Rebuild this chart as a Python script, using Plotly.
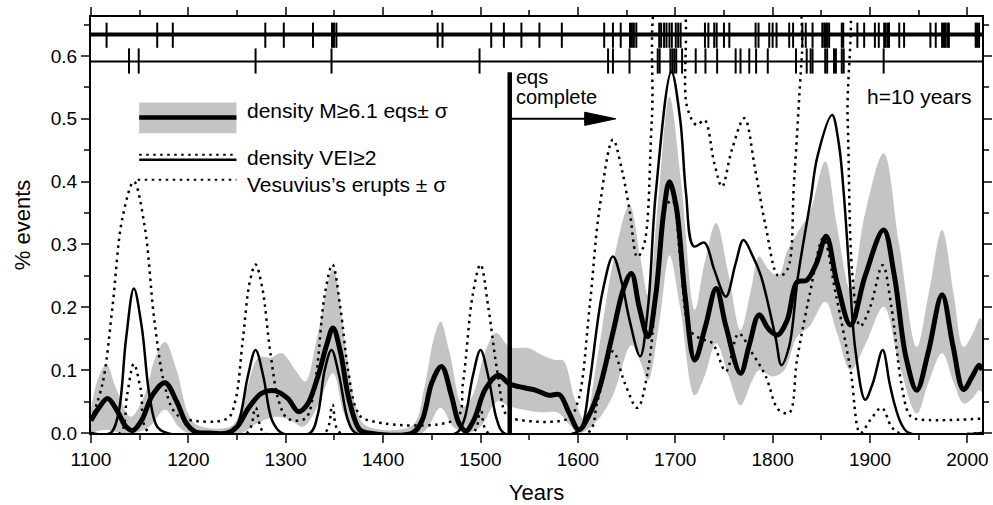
import plotly.graph_objects as go

# ---------------- data ----------------
eq_years = [1100, 1108, 1117, 1127, 1136, 1143, 1152, 1163, 1176, 1188, 1198, 1207, 1220, 1240, 1250,
            1262, 1275, 1289, 1302, 1313, 1322, 1333, 1342, 1348.5, 1356, 1365, 1376, 1385, 1430, 1440,
            1450, 1460, 1470, 1478, 1485, 1493, 1505, 1518, 1530, 1545, 1557, 1570, 1581, 1591, 1601,
            1612, 1622, 1636, 1647, 1655, 1663, 1672, 1680, 1688, 1694, 1701, 1710, 1720, 1731, 1742,
            1752, 1767, 1776, 1786, 1796, 1805, 1815, 1825, 1835, 1845, 1855, 1866, 1880, 1895, 1914,
            1925, 1937, 1948, 1960, 1974, 1985, 1996, 2005, 2012, 2015]
eq_density = [0.02, 0.04, 0.055, 0.035, 0.01, 0.004, 0.02, 0.06, 0.08, 0.05, 0.015, 0.002, 0.0, 0.0, 0.01,
              0.04, 0.063, 0.067, 0.055, 0.034, 0.045, 0.09, 0.14, 0.167, 0.13, 0.053, 0.005, 0.0, 0.0, 0.02,
              0.08, 0.106, 0.06, 0.015, 0.003, 0.02, 0.07, 0.092, 0.078, 0.072, 0.068, 0.06, 0.061, 0.032, 0.005,
              0.03, 0.07, 0.16, 0.23, 0.254, 0.2, 0.153, 0.22, 0.35, 0.40, 0.36, 0.22, 0.116, 0.17, 0.23,
              0.17, 0.095, 0.14, 0.188, 0.165, 0.156, 0.18, 0.24, 0.243, 0.27, 0.313, 0.24, 0.172, 0.25, 0.323,
              0.25, 0.12, 0.068, 0.13, 0.22, 0.14, 0.069, 0.09, 0.108, 0.1]

eq_up_years = [1100, 1108, 1116, 1126, 1141, 1155, 1166, 1176, 1188, 1200, 1210, 1245, 1258, 1272, 1285,
               1296, 1310, 1320, 1332, 1348.5, 1362, 1372, 1382, 1430, 1442, 1452, 1459, 1468, 1482, 1492,
               1505, 1516, 1530, 1550, 1563, 1577, 1585, 1597, 1607, 1620, 1636, 1653, 1664, 1672, 1683,
               1694, 1706, 1720, 1730, 1742, 1755, 1767, 1778, 1786, 1796, 1806, 1815, 1826, 1838, 1854,
               1866, 1880, 1895, 1914, 1930, 1948, 1960, 1974, 1986, 1996, 2006, 2013, 2015]
eq_upper = [0.04, 0.09, 0.109, 0.07, 0.026, 0.06, 0.12, 0.145, 0.1, 0.03, 0.012, 0.012, 0.06, 0.12, 0.12,
            0.127, 0.1, 0.082, 0.15, 0.26, 0.132, 0.042, 0.012, 0.012, 0.07, 0.15, 0.177, 0.13, 0.042, 0.06,
            0.13, 0.159, 0.137, 0.135, 0.124, 0.116, 0.115, 0.053, 0.02, 0.12, 0.27, 0.363, 0.28, 0.22, 0.38,
            0.535, 0.40, 0.196, 0.27, 0.334, 0.25, 0.164, 0.23, 0.281, 0.26, 0.25, 0.29, 0.32, 0.35, 0.432,
            0.33, 0.228, 0.35, 0.445, 0.3, 0.137, 0.22, 0.323, 0.22, 0.137, 0.16, 0.183, 0.18]

eq_lo_years = [1100, 1117, 1130, 1145, 1160, 1176, 1190, 1200, 1255, 1270, 1290, 1305, 1318, 1332, 1348.5,
               1360, 1372, 1440, 1459, 1472, 1485, 1500, 1517, 1530, 1560, 1580, 1592, 1602, 1620, 1636,
               1655, 1665, 1672, 1684, 1694, 1705, 1720, 1730, 1742, 1755, 1767, 1778, 1786, 1800, 1812,
               1825, 1838, 1854, 1866, 1880, 1895, 1914, 1930, 1948, 1960, 1974, 1986, 1996, 2005, 2012, 2015]
eq_lower = [0.0, 0.005, 0.0, 0.0, 0.01, 0.037, 0.01, 0.0, 0.0, 0.015, 0.026, 0.02, 0.01, 0.04, 0.095,
            0.03, 0.0, 0.0, 0.04, 0.01, 0.0, 0.01, 0.05, 0.042, 0.033, 0.032, 0.012, 0.0, 0.02, 0.06,
            0.14, 0.11, 0.084, 0.18, 0.283, 0.2, 0.06, 0.09, 0.143, 0.09, 0.044, 0.08, 0.1, 0.09, 0.1,
            0.153, 0.17, 0.209, 0.16, 0.1, 0.14, 0.201, 0.11, 0.031, 0.08, 0.127, 0.08, 0.047, 0.055, 0.068, 0.065]

vei_years = [1100, 1120, 1128, 1136, 1144, 1152, 1160, 1168, 1178, 1244, 1252, 1261, 1269, 1277, 1286,
             1296, 1325, 1333, 1340, 1347, 1355, 1364, 1372, 1475, 1483, 1492, 1500, 1508, 1517, 1524,
             1597, 1604, 1612, 1625, 1636, 1645, 1653, 1664, 1672, 1680, 1696, 1705, 1711, 1719, 1730,
             1740, 1752, 1762, 1770, 1780, 1788, 1803, 1809, 1817, 1826, 1839, 1846, 1861, 1868, 1873,
             1879, 1885, 1895, 1903, 1913, 1920, 1925, 1932, 1940, 2015]
vei_density = [0.0, 0.0, 0.03, 0.15, 0.23, 0.17, 0.06, 0.01, 0.0, 0.0, 0.02, 0.09, 0.132, 0.09, 0.02,
               0.0, 0.0, 0.03, 0.1, 0.132, 0.09, 0.02, 0.0, 0.0, 0.02, 0.09, 0.132, 0.09, 0.02, 0.0,
               0.0, 0.01, 0.08, 0.222, 0.281, 0.24, 0.18, 0.122, 0.2, 0.382, 0.575, 0.5, 0.382, 0.297, 0.303,
               0.26, 0.217, 0.27, 0.307, 0.28, 0.25, 0.152, 0.108, 0.138, 0.249, 0.371, 0.44, 0.506, 0.46, 0.382,
               0.25, 0.132, 0.053, 0.08, 0.132, 0.08, 0.047, 0.015, 0.0, 0.0]

ves_up_years = [1100, 1112, 1122, 1132, 1144, 1155, 1165, 1175, 1185, 1195, 1240, 1248, 1256, 1263, 1269,
                1276, 1284, 1293, 1302, 1320, 1330, 1340, 1348, 1356, 1364, 1372, 1380, 1475, 1482, 1492,
                1500, 1508, 1517, 1526, 1533, 1590, 1600, 1612, 1622, 1636, 1645, 1653, 1661, 1668, 1676,
                1684, 1705, 1712, 1722, 1730, 1740, 1748, 1758, 1771, 1782, 1793, 1806, 1815, 1822, 1830,
                1836, 1872, 1877, 1882, 1890, 1900, 1913, 1922, 1932, 1940, 1946, 2015]
ves_upper = [0.02, 0.08, 0.2, 0.34, 0.40, 0.33, 0.18, 0.08, 0.035, 0.023, 0.023, 0.05, 0.15, 0.24, 0.268,
             0.23, 0.13, 0.05, 0.023, 0.023, 0.08, 0.22, 0.268, 0.2, 0.1, 0.04, 0.023, 0.023, 0.08, 0.22,
             0.268, 0.2, 0.1, 0.03, 0.023, 0.023, 0.05, 0.2, 0.355, 0.467, 0.42, 0.355, 0.28, 0.3, 0.5,
             0.7, 0.7, 0.52, 0.49, 0.498, 0.43, 0.392, 0.45, 0.501, 0.42, 0.328, 0.25, 0.26, 0.4, 0.6,
             0.72, 0.72, 0.5, 0.25, 0.17, 0.2, 0.267, 0.2, 0.08, 0.03, 0.023, 0.023]

ves_lo_years = [1100, 1130, 1137, 1144, 1151, 1160, 1260, 1269, 1278, 1340, 1348, 1356, 1492, 1500, 1508,
                1610, 1620, 1636, 1648, 1661, 1672, 1683, 1690, 1697, 1705, 1715, 1726, 1738, 1752, 1765,
                1779, 1793, 1806, 1817, 1825, 1838, 1852, 1865, 1880, 1890, 1900, 1912, 1922, 1930, 2015]
ves_lower = [0.0, 0.0, 0.06, 0.11, 0.07, 0.0, 0.0, 0.04, 0.0, 0.0, 0.045, 0.0, 0.0, 0.04, 0.0,
             0.0, 0.05, 0.13, 0.08, 0.04, 0.1, 0.28, 0.36, 0.37, 0.28, 0.164, 0.15, 0.143, 0.098, 0.158,
             0.127, 0.09, 0.037, 0.032, 0.116, 0.22, 0.31, 0.22, 0.1, 0.0, 0.02, 0.04, 0.01, 0.0, 0.0]

eq_events = [1116, 1168, 1184, 1279, 1298, 1328, 1347.5, 1349.5, 1352, 1456, 1461, 1511, 1524, 1542,
             1560.5, 1583.5, 1627, 1636, 1644, 1653.5, 1655.5, 1657.5, 1660, 1683.5, 1685.5, 1688.5, 1691,
             1694, 1696.5, 1700.5, 1703, 1705.5, 1730.5, 1734, 1740, 1742.5, 1750, 1755.5, 1782.5, 1785.5,
             1796.5, 1800, 1804, 1817, 1821, 1830.5, 1834, 1841, 1851, 1853, 1854.5, 1856, 1858, 1871,
             1872.5, 1887, 1894, 1905, 1909, 1914.5, 1916, 1918, 1919.5, 1930, 1935, 1962, 1967.5, 1974,
             1976, 1977.5, 1979.5, 1981, 2008.5, 2010, 2012]
eruptions = [1139, 1149, 1269, 1347, 1499, 1631, 1636, 1653, 1682, 1684, 1695, 1697, 1699, 1701, 1707,
             1721, 1731, 1743, 1762, 1767, 1776, 1783, 1795, 1824, 1835, 1839, 1841, 1854, 1856, 1863,
             1865, 1871, 1873, 1914]

x_ticks = [1100, 1200, 1300, 1400, 1500, 1600, 1700, 1800, 1900, 2000]
y_ticks = [0.0, 0.1, 0.2, 0.3, 0.4, 0.5, 0.6]

complete_year = 1530

# ---------------- styling ----------------
GRAY = "#c4c4c4"
FONT = "Liberation Sans, Arial, Helvetica, sans-serif"
DOT = "2.5px,4.5px"

fig = go.Figure()

# gray +/- sigma band of earthquake density
fig.add_trace(go.Scatter(x=eq_lo_years, y=eq_lower, mode="lines", line=dict(width=0, color=GRAY, shape="spline"),
                         hoverinfo="skip"))
fig.add_trace(go.Scatter(x=eq_up_years, y=eq_upper, mode="lines", line=dict(width=0, color=GRAY, shape="spline"),
                         fill="tonexty", fillcolor=GRAY, hoverinfo="skip"))
# Vesuvius eruptions +/- sigma (dotted)
fig.add_trace(go.Scatter(x=ves_up_years, y=ves_upper, mode="lines",
                         line=dict(width=2.5, color="black", dash=DOT, shape="spline")))
fig.add_trace(go.Scatter(x=ves_lo_years, y=ves_lower, mode="lines",
                         line=dict(width=2.5, color="black", dash=DOT, shape="spline")))
# VEI density (thin solid)
fig.add_trace(go.Scatter(x=vei_years, y=vei_density, mode="lines",
                         line=dict(width=2.5, color="black", shape="spline")))
# earthquake density (thick)
fig.add_trace(go.Scatter(x=eq_years, y=eq_density, mode="lines",
                         line=dict(width=5, color="black", shape="spline")))
# event ticks
fig.add_trace(go.Scatter(x=eq_events, y=[0.633] * len(eq_events), mode="markers",
                         marker=dict(symbol="line-ns", size=18, line=dict(width=2, color="black")),
                         cliponaxis=False))
fig.add_trace(go.Scatter(x=eruptions, y=[0.592] * len(eruptions), mode="markers",
                         marker=dict(symbol="line-ns", size=18, line=dict(width=2, color="black")),
                         cliponaxis=False))

shapes = [
    # event strip lines
    dict(type="line", xref="paper", x0=0, x1=1, yref="y", y0=0.634, y1=0.634, line=dict(color="black", width=4)),
    dict(type="line", xref="paper", x0=0, x1=1, yref="y", y0=0.591, y1=0.591, line=dict(color="black", width=2)),
    # completeness line and arrow
    dict(type="line", x0=complete_year, x1=complete_year, y0=0, y1=0.574, line=dict(color="black", width=4.5)),
    dict(type="line", x0=complete_year + 1, x1=1610, y0=0.5, y1=0.5, line=dict(color="black", width=2)),
    dict(type="path", path="M 1607,0.4895 L 1639,0.5 L 1607,0.5105 Z", fillcolor="black",
         line=dict(color="black", width=1)),
    # legend symbols
    dict(type="rect", x0=1149.5, x1=1249.4, y0=0.477, y1=0.526, fillcolor=GRAY, line=dict(width=0)),
    dict(type="line", x0=1149.5, x1=1249.4, y0=0.502, y1=0.502, line=dict(color="black", width=4.5)),
    dict(type="line", x0=1149.5, x1=1249.4, y0=0.4427, y1=0.4427, line=dict(color="black", width=2, dash=DOT)),
    dict(type="line", x0=1149.5, x1=1249.4, y0=0.4347, y1=0.4347, line=dict(color="black", width=2.5)),
    dict(type="line", x0=1148, x1=1249.4, y0=0.4029, y1=0.4029, line=dict(color="black", width=2, dash=DOT)),
]

ann_font = dict(family=FONT, size=21, color="black")
annotations = [
    dict(x=1258, y=0.513, text="density M≥6.1 eqs± σ", showarrow=False, xanchor="left", yanchor="middle", font=ann_font),
    dict(x=1258, y=0.438, text="density VEI≥2", showarrow=False, xanchor="left", yanchor="middle", font=ann_font),
    dict(x=1258, y=0.395, text="Vesuvius’s erupts ± σ", showarrow=False, xanchor="left", yanchor="middle", font=ann_font),
    dict(x=1534, y=0.566, text="eqs", showarrow=False, xanchor="left", yanchor="middle",
         font=dict(family=FONT, size=20, color="black")),
    dict(x=1534, y=0.534, text="complete", showarrow=False, xanchor="left", yanchor="middle",
         font=dict(family=FONT, size=20, color="black")),
    dict(x=2006.5, y=0.535, text="h=10 years", showarrow=False, xanchor="right", yanchor="middle", font=ann_font),
]

fig.update_layout(
    width=993, height=505,
    margin=dict(l=91, r=11, t=17, b=72),
    plot_bgcolor="white", paper_bgcolor="white",
    showlegend=False,
    font=dict(family=FONT, size=19, color="black"),
    shapes=shapes, annotations=annotations,
    xaxis=dict(range=[1100, 2015], tickmode="array", tickvals=x_ticks, ticks="outside", ticklen=8, tickwidth=2,
               showline=True, linewidth=2, linecolor="black", mirror="ticks", showgrid=False, zeroline=False,
               automargin=False,
               minor=dict(dtick=50, tick0=1100, ticks="outside", ticklen=5, tickwidth=2, showgrid=False),
               title=dict(text="Years", font=dict(size=22), standoff=16)),
    yaxis=dict(range=[0, 0.662], tickmode="array", tickvals=y_ticks, tickformat=".1f", ticks="outside", ticklen=8,
               tickwidth=2, showline=True, linewidth=2, linecolor="black", mirror="ticks", showgrid=False,
               zeroline=False, automargin=False,
               minor=dict(dtick=0.05, tick0=0, ticks="outside", ticklen=5, tickwidth=2, showgrid=False),
               title=dict(text="% events", font=dict(size=22), standoff=14)),
)

# remove the default page margin so the 993x505 figure fills the window exactly
fig.write_html("out.html", config={"displayModeBar": False},
               post_script="document.body.style.margin='0';document.body.style.overflow='hidden';")
